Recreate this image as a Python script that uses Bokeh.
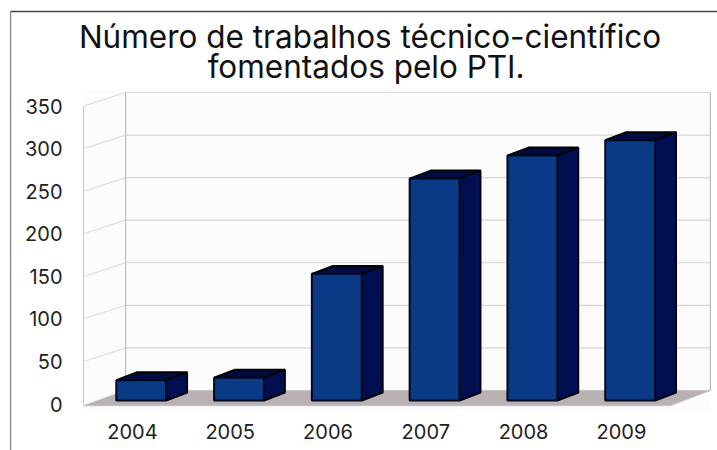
from bokeh.plotting import figure
from bokeh.models import FixedTicker, Range1d, LinearAxis
from bokeh.core.properties import value
from bokeh.embed import file_html
from bokeh.resources import INLINE

# --- data ---
years = ["2004", "2005", "2006", "2007", "2008", "2009"]
values = [24, 27, 149, 261, 288, 306]
y_ticks = [0, 50, 100, 150, 200, 250, 300, 350]
title_lines = ["Número de trabalhos técnico-científico", "fomentados pelo PTI."]

# --- 3D look, in data units ---
WALL_DX, WALL_DY = 0.43, 16      # offset of back wall from the front plane
BAR_DX, BAR_DY = 0.215, 9.4      # bar depth
BAR_W, BAR_SHIFT, BAR_BASE = 0.51, 0.09, 4
FLOOR_FRONT = -2
X_FRONT_END, X_WALL_END = 6.0, 6.41
X_MIN, X_MAX = -0.849, 6.483
Y_MIN, Y_MAX = -54.6, 474.1
FRAME_X, FRAME_Y = -0.746, 461.2

FONT = "Inter"
TEXT = "#222222"

p = figure(width=717, height=450, output_backend="svg", toolbar_location=None,
           x_range=Range1d(X_MIN, X_MAX), y_range=Range1d(Y_MIN, Y_MAX),
           x_axis_location=None, y_axis_location=None,
           min_border=0, min_border_left=0, min_border_right=0, min_border_top=0, min_border_bottom=0,
           background_fill_color="white", border_fill_color="white",
           outline_line_color=None)
p.grid.visible = False

# scanned page frame
p.segment([FRAME_X], [FRAME_Y], [X_MAX], [FRAME_Y], line_color="#444444", line_width=1.6)
p.segment([FRAME_X], [FRAME_Y], [FRAME_X], [Y_MIN], line_color="#8a8a8a", line_width=1.4)

# pale wall background
p.quad(left=[0], right=[X_WALL_END], bottom=[-8], top=[y_ticks[-1] + WALL_DY + 3],
       fill_color="#fcfcfc", line_color=None)

# y axis, fixed on the front plane
ax = LinearAxis(fixed_location=0, ticker=FixedTicker(ticks=y_ticks), bounds=(0, 350))
ax.axis_line_color = "#c8c8c8"
ax.major_tick_line_color = None
ax.minor_tick_line_color = None
ax.major_label_text_font = FONT
ax.major_label_text_font_size = "20px"
ax.major_label_text_color = TEXT
ax.major_label_standoff = 15
p.add_layout(ax, "left")

# x axis
cat_pos = [i + 0.5 for i in range(len(years))]
bx = LinearAxis(fixed_location=-10, ticker=FixedTicker(ticks=cat_pos))
bx.major_label_overrides = {c: y for c, y in zip(cat_pos, years)}
bx.axis_line_color = None
bx.major_tick_line_color = None
bx.minor_tick_line_color = None
bx.major_label_text_font = FONT
bx.major_label_text_font_size = "20px"
bx.major_label_text_color = TEXT
bx.major_label_standoff = 5
p.add_layout(bx, "below")

# title
p.text(x=[2.93, 2.89], y=[431.8, 396.6], text=title_lines,
       text_font=value(FONT), text_font_size="31.5px", text_color="#111111",
       text_align="center", text_baseline="middle")

# walls: grid lines on the back wall and the side wall
GRID = "#d6d6d6"
p.multi_line([[WALL_DX, X_WALL_END] for _ in y_ticks[1:]],
             [[t + WALL_DY, t + WALL_DY] for t in y_ticks[1:]],
             line_color=GRID, line_width=1.2)
p.multi_line([[0, WALL_DX] for _ in y_ticks[1:]],
             [[t, t + WALL_DY] for t in y_ticks[1:]],
             line_color="#dedede", line_width=1.2)
p.segment([WALL_DX, X_WALL_END], [WALL_DY, WALL_DY], [WALL_DX, X_WALL_END],
          [y_ticks[-1] + WALL_DY] * 2, line_color="#bdbdbd", line_width=1.2)

# floor
p.patch([0, WALL_DX, X_WALL_END, X_FRONT_END], [FLOOR_FRONT, WALL_DY, WALL_DY, FLOOR_FRONT],
        fill_color="#b9b1b4", line_color="#c8c2c4", line_width=1)

# bars
lefts = [c - BAR_W / 2 + BAR_SHIFT for c in cat_pos]
rights = [l + BAR_W for l in lefts]
tops = [v + BAR_BASE for v in values]

p.patches([[r, r + BAR_DX, r + BAR_DX, r] for r in rights],
          [[BAR_BASE, BAR_BASE + BAR_DY, t + BAR_DY, t] for t in tops],
          fill_color="#020e52", line_color="#000000", line_width=1.8)
p.patches([[l, l + BAR_DX, r + BAR_DX, r] for l, r in zip(lefts, rights)],
          [[t, t + BAR_DY, t + BAR_DY, t] for t in tops],
          fill_color="#020b40", line_color="#000000", line_width=1.8)
p.quad(left=lefts, right=rights, bottom=[BAR_BASE] * len(tops), top=tops,
       fill_color="#0a3a86", line_color="#00081e", line_width=2)

open("out.html", "w").write(file_html(p, INLINE))
